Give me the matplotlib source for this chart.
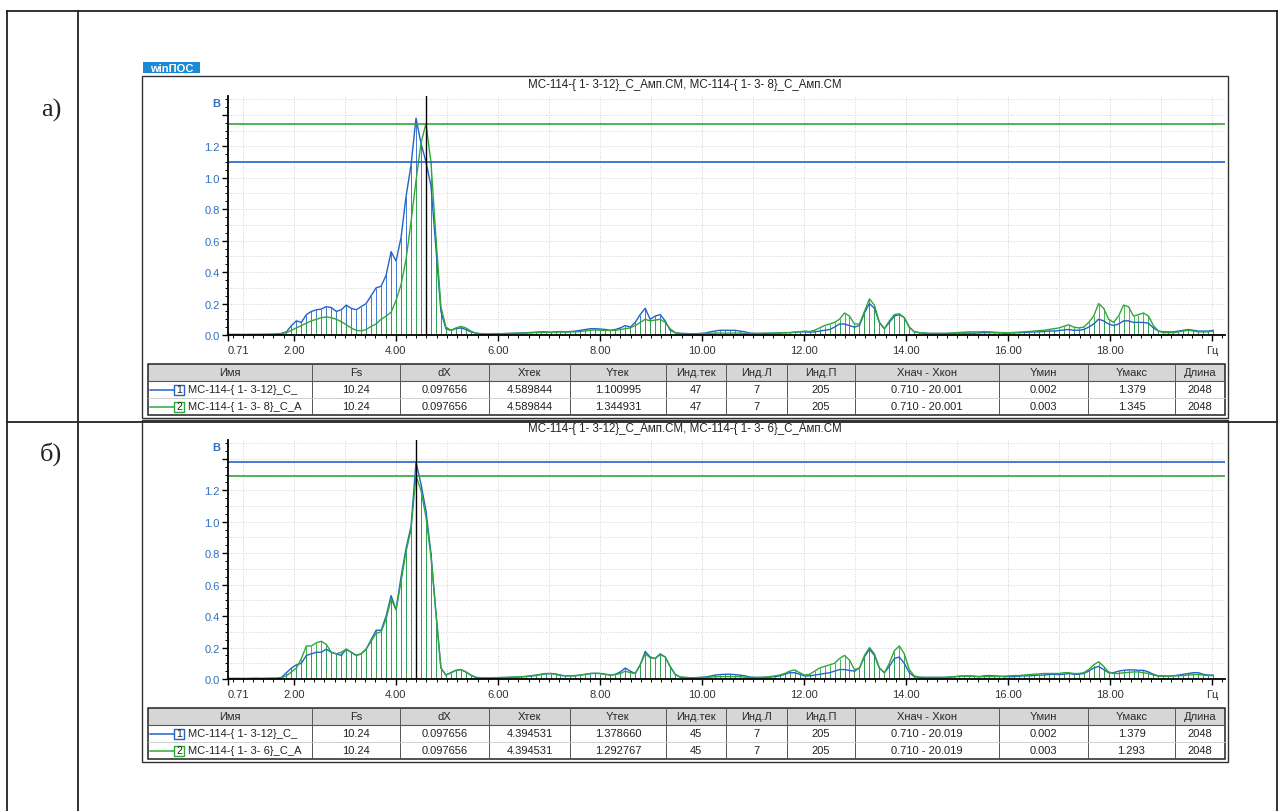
import numpy as np
import matplotlib.pyplot as plt
from matplotlib.patches import Rectangle
from matplotlib.ticker import FixedLocator, MultipleLocator

plt.rcParams['font.family'] = ['Liberation Sans', 'DejaVu Sans']

W, H = 1279, 812  # canvas size, px

# spectrum bins: step dX, left / right index (Инд.Л, Инд.П)
DX = 0.097656
IDX_L, IDX_R = 7, 205

# panel a) amplitudes, one value per bin starting at IDX_L
A1 = [0.004, 0.003, 0.003, 0.002, 0.003, 0.003, 0.003, 0.004, 0.004, 0.005,
      0.006, 0.010, 0.020, 0.060, 0.090, 0.080, 0.130, 0.150, 0.160, 0.165,
      0.180, 0.175, 0.150, 0.160, 0.190, 0.170, 0.160, 0.180, 0.200, 0.250,
      0.300, 0.310, 0.380, 0.530, 0.470, 0.620, 0.880, 1.080, 1.379, 1.220,
      1.100995, 0.950, 0.550, 0.150, 0.040, 0.030, 0.040, 0.045, 0.035, 0.020,
      0.012, 0.008, 0.006, 0.006, 0.008, 0.008, 0.010, 0.010, 0.012, 0.012,
      0.014, 0.016, 0.018, 0.020, 0.020, 0.018, 0.020, 0.022, 0.020, 0.022,
      0.025, 0.030, 0.035, 0.040, 0.040, 0.038, 0.035, 0.030, 0.035, 0.045,
      0.060, 0.050, 0.080, 0.130, 0.170, 0.100, 0.120, 0.130, 0.090, 0.030,
      0.015, 0.010, 0.010, 0.008, 0.008, 0.010, 0.012, 0.020, 0.025, 0.030,
      0.030, 0.030, 0.030, 0.025, 0.020, 0.012, 0.010, 0.010, 0.010, 0.010,
      0.012, 0.012, 0.015, 0.015, 0.018, 0.020, 0.020, 0.018, 0.020, 0.025,
      0.030, 0.035, 0.050, 0.070, 0.070, 0.060, 0.050, 0.060, 0.140, 0.200,
      0.170, 0.080, 0.040, 0.080, 0.120, 0.130, 0.110, 0.050, 0.020, 0.015,
      0.012, 0.010, 0.010, 0.010, 0.010, 0.010, 0.012, 0.012, 0.012, 0.012,
      0.012, 0.014, 0.015, 0.015, 0.015, 0.014, 0.012, 0.012, 0.014, 0.015,
      0.016, 0.018, 0.020, 0.020, 0.022, 0.025, 0.025, 0.028, 0.032, 0.035,
      0.030, 0.030, 0.035, 0.050, 0.070, 0.100, 0.090, 0.070, 0.060, 0.070,
      0.090, 0.090, 0.080, 0.080, 0.080, 0.075, 0.045, 0.025, 0.020, 0.020,
      0.020, 0.025, 0.030, 0.035, 0.030, 0.025, 0.025, 0.025, 0.030]
A2 = [0.004, 0.003, 0.004, 0.004, 0.003, 0.004, 0.004, 0.003, 0.004, 0.004,
      0.005, 0.008, 0.015, 0.030, 0.045, 0.060, 0.075, 0.090, 0.100, 0.110,
      0.115, 0.110, 0.100, 0.085, 0.065, 0.045, 0.030, 0.026, 0.035, 0.055,
      0.070, 0.100, 0.120, 0.145, 0.220, 0.320, 0.480, 0.720, 0.980, 1.220,
      1.344931, 1.100, 0.620, 0.180, 0.050, 0.030, 0.045, 0.055, 0.045, 0.025,
      0.012, 0.008, 0.006, 0.006, 0.007, 0.008, 0.008, 0.010, 0.010, 0.012,
      0.012, 0.014, 0.015, 0.016, 0.018, 0.016, 0.018, 0.020, 0.018, 0.020,
      0.020, 0.022, 0.025, 0.030, 0.032, 0.030, 0.030, 0.028, 0.030, 0.035,
      0.040, 0.045, 0.060, 0.080, 0.100, 0.090, 0.095, 0.100, 0.080, 0.040,
      0.015, 0.010, 0.008, 0.008, 0.008, 0.008, 0.010, 0.010, 0.012, 0.012,
      0.012, 0.012, 0.012, 0.012, 0.010, 0.010, 0.010, 0.010, 0.012, 0.012,
      0.012, 0.014, 0.015, 0.015, 0.018, 0.020, 0.025, 0.022, 0.030, 0.045,
      0.060, 0.070, 0.080, 0.100, 0.140, 0.120, 0.070, 0.070, 0.150, 0.230,
      0.190, 0.080, 0.040, 0.090, 0.130, 0.135, 0.110, 0.050, 0.020, 0.015,
      0.012, 0.010, 0.010, 0.010, 0.010, 0.012, 0.014, 0.016, 0.018, 0.020,
      0.020, 0.020, 0.022, 0.020, 0.018, 0.016, 0.015, 0.015, 0.016, 0.018,
      0.020, 0.022, 0.025, 0.028, 0.030, 0.035, 0.040, 0.045, 0.055, 0.065,
      0.050, 0.045, 0.050, 0.080, 0.120, 0.200, 0.170, 0.100, 0.080, 0.120,
      0.190, 0.180, 0.120, 0.130, 0.140, 0.120, 0.060, 0.025, 0.015, 0.015,
      0.015, 0.020, 0.025, 0.030, 0.025, 0.020, 0.020, 0.020, 0.025]

# panel б) amplitudes
B1 = [0.004, 0.003, 0.003, 0.002, 0.003, 0.003, 0.004, 0.003, 0.004, 0.005,
      0.005, 0.010, 0.040, 0.070, 0.090, 0.100, 0.150, 0.160, 0.170, 0.170,
      0.190, 0.170, 0.160, 0.150, 0.190, 0.170, 0.150, 0.160, 0.190, 0.250,
      0.310, 0.310, 0.400, 0.530, 0.440, 0.650, 0.830, 0.970, 1.378660, 1.240,
      1.070, 0.800, 0.420, 0.070, 0.025, 0.040, 0.055, 0.060, 0.045, 0.025,
      0.010, 0.008, 0.006, 0.006, 0.008, 0.008, 0.010, 0.010, 0.012, 0.014,
      0.016, 0.018, 0.022, 0.028, 0.032, 0.035, 0.032, 0.025, 0.020, 0.020,
      0.022, 0.025, 0.030, 0.035, 0.036, 0.035, 0.030, 0.025, 0.030, 0.045,
      0.070, 0.050, 0.035, 0.090, 0.175, 0.140, 0.130, 0.160, 0.140, 0.080,
      0.030, 0.012, 0.010, 0.008, 0.008, 0.010, 0.012, 0.018, 0.025, 0.028,
      0.030, 0.030, 0.028, 0.025, 0.020, 0.012, 0.010, 0.010, 0.010, 0.012,
      0.015, 0.020, 0.030, 0.040, 0.040, 0.030, 0.020, 0.020, 0.025, 0.030,
      0.035, 0.040, 0.050, 0.060, 0.060, 0.055, 0.050, 0.070, 0.140, 0.190,
      0.150, 0.070, 0.040, 0.080, 0.130, 0.140, 0.100, 0.040, 0.015, 0.010,
      0.010, 0.010, 0.010, 0.010, 0.010, 0.012, 0.015, 0.018, 0.020, 0.020,
      0.018, 0.015, 0.020, 0.022, 0.020, 0.018, 0.015, 0.015, 0.015, 0.018,
      0.020, 0.020, 0.022, 0.025, 0.025, 0.028, 0.030, 0.028, 0.030, 0.035,
      0.030, 0.030, 0.035, 0.050, 0.070, 0.080, 0.060, 0.040, 0.040, 0.050,
      0.055, 0.058, 0.058, 0.055, 0.055, 0.045, 0.030, 0.020, 0.020, 0.018,
      0.020, 0.025, 0.030, 0.035, 0.040, 0.040, 0.030, 0.025, 0.025]
B2 = [0.004, 0.003, 0.004, 0.004, 0.003, 0.004, 0.004, 0.004, 0.004, 0.004,
      0.004, 0.008, 0.020, 0.045, 0.070, 0.130, 0.210, 0.210, 0.230, 0.240,
      0.220, 0.170, 0.160, 0.170, 0.190, 0.170, 0.150, 0.160, 0.190, 0.240,
      0.290, 0.300, 0.380, 0.510, 0.440, 0.620, 0.810, 0.950, 1.292767, 1.200,
      1.030, 0.780, 0.420, 0.070, 0.025, 0.040, 0.055, 0.060, 0.045, 0.025,
      0.010, 0.008, 0.006, 0.006, 0.008, 0.010, 0.010, 0.012, 0.012, 0.014,
      0.016, 0.020, 0.025, 0.030, 0.035, 0.035, 0.030, 0.022, 0.020, 0.020,
      0.020, 0.025, 0.030, 0.035, 0.036, 0.035, 0.030, 0.025, 0.028, 0.035,
      0.050, 0.040, 0.035, 0.090, 0.160, 0.135, 0.130, 0.155, 0.140, 0.080,
      0.030, 0.012, 0.010, 0.008, 0.008, 0.010, 0.010, 0.012, 0.015, 0.015,
      0.015, 0.015, 0.015, 0.015, 0.012, 0.010, 0.010, 0.010, 0.012, 0.015,
      0.020, 0.025, 0.035, 0.050, 0.058, 0.040, 0.025, 0.030, 0.050, 0.070,
      0.080, 0.090, 0.100, 0.130, 0.150, 0.120, 0.060, 0.070, 0.150, 0.200,
      0.160, 0.070, 0.040, 0.100, 0.180, 0.210, 0.160, 0.060, 0.020, 0.012,
      0.010, 0.010, 0.010, 0.010, 0.010, 0.012, 0.014, 0.016, 0.018, 0.018,
      0.016, 0.015, 0.015, 0.016, 0.016, 0.016, 0.018, 0.020, 0.022, 0.022,
      0.025, 0.028, 0.030, 0.032, 0.035, 0.035, 0.035, 0.035, 0.040, 0.040,
      0.035, 0.035, 0.040, 0.060, 0.090, 0.110, 0.080, 0.045, 0.035, 0.035,
      0.040, 0.042, 0.045, 0.045, 0.040, 0.035, 0.025, 0.018, 0.018, 0.018,
      0.020, 0.020, 0.022, 0.025, 0.028, 0.028, 0.025, 0.022, 0.022]

TITLE_A = 'МС-114-{ 1- 3-12}_С_Амп.СМ, МС-114-{ 1- 3- 8}_С_Амп.СМ'
TITLE_B = 'МС-114-{ 1- 3-12}_С_Амп.СМ, МС-114-{ 1- 3- 6}_С_Амп.СМ'

HEADERS = ['Имя', 'Fs', 'dX', 'Xтек', 'Yтек', 'Инд.тек', 'Инд.Л', 'Инд.П',
           'Хнач - Хкон', 'Yмин', 'Yмакс', 'Длина']
ROWS_A = [['МС-114-{ 1- 3-12}_С_', '10.24', '0.097656', '4.589844', '1.100995',
           '47', '7', '205', '0.710 - 20.001', '0.002', '1.379', '2048'],
          ['МС-114-{ 1- 3- 8}_С_А', '10.24', '0.097656', '4.589844', '1.344931',
           '47', '7', '205', '0.710 - 20.001', '0.003', '1.345', '2048']]
ROWS_B = [['МС-114-{ 1- 3-12}_С_', '10.24', '0.097656', '4.394531', '1.378660',
           '45', '7', '205', '0.710 - 20.019', '0.002', '1.379', '2048'],
          ['МС-114-{ 1- 3- 6}_С_А', '10.24', '0.097656', '4.394531', '1.292767',
           '45', '7', '205', '0.710 - 20.019', '0.003', '1.293', '2048']]

X_TICKS = [0.71, 2, 4, 6, 8, 10, 12, 14, 16, 18, 20]
X_LABELS = ['0.71', '2.00', '4.00', '6.00', '8.00', '10.00', '12.00',
            '14.00', '16.00', '18.00', 'Гц']
Y_TICKS = [0.0, 0.2, 0.4, 0.6, 0.8, 1.0, 1.2, 1.4]
Y_LABELS = ['0.0', '0.2', '0.4', '0.6', '0.8', '1.0', '1.2', '']

BLUE = '#2263c9'
GREEN = '#2fa83a'
LABEL_BLUE = '#2f6fbf'
INK = '#222222'
FS = 8  # text size used in the plot window

# table column edges, px
COL_EDGES = [148, 312, 400, 489, 570, 666, 726, 787, 855, 999, 1088, 1175, 1225]
ROW_H = 17


def px_rect(x0, y0, x1, y1):
    return [x0 / W, 1 - y1 / H, (x1 - x0) / W, (y1 - y0) / H]


def draw_spectrum(fig, top, s1, s2, rows):
    ax = fig.add_axes(px_rect(228, top + 20, 1225, top + 259))
    ax.set_facecolor('none')
    freq = np.arange(IDX_L, IDX_R + 1) * DX
    x_cur = float(rows[0][3])

    for g in np.arange(0.1, 1.55, 0.1):
        ax.axhline(g, color='#c4c4c4', lw=0.6, ls=(0, (1, 2)), zorder=0.5)
    for g in range(1, 21):
        ax.axvline(g, color='#c4c4c4', lw=0.6, ls=(0, (1, 2)), zorder=0.5)

    ax.vlines(freq, 0, s1, color=BLUE, lw=0.6, zorder=1)
    ax.vlines(freq, 0, s2, color=GREEN, lw=0.6, zorder=1.1)
    ax.plot(freq, s1, color=BLUE, lw=1.0, zorder=2)
    ax.plot(freq, s2, color=GREEN, lw=1.0, zorder=2.1)

    ax.axhline(float(rows[0][4]), color=BLUE, lw=1.2, zorder=2.5)
    ax.axhline(float(rows[1][4]), color=GREEN, lw=1.2, zorder=2.5)
    ax.axvline(x_cur, color='black', lw=1.0, zorder=3)

    ax.set_xlim(0.71, 20.25)
    ax.set_ylim(0, 1.52)
    ax.xaxis.set_major_locator(FixedLocator(X_TICKS))
    ax.set_xticklabels(X_LABELS)
    ax.xaxis.set_minor_locator(MultipleLocator(0.2))
    ax.yaxis.set_major_locator(FixedLocator(Y_TICKS))
    ax.set_yticklabels(Y_LABELS)
    ax.yaxis.set_minor_locator(MultipleLocator(0.05))

    for side in ('top', 'right'):
        ax.spines[side].set_visible(False)
    for side in ('left', 'bottom'):
        ax.spines[side].set_linewidth(1.3)
        ax.spines[side].set_color('black')
    ax.tick_params(which='major', length=4, width=1, pad=2, labelsize=FS)
    ax.tick_params(which='minor', length=2, width=0.7)
    ax.tick_params(axis='x', labelcolor='#333333', pad=3)
    ax.tick_params(axis='y', labelcolor=LABEL_BLUE)
    ax.xaxis.get_major_ticks()[0].label1.set_horizontalalignment('left')
    return ax


def draw_table(bg, top, rows):
    left, right = COL_EDGES[0], COL_EDGES[-1]
    bg.add_patch(Rectangle((left, top), right - left, ROW_H,
                           facecolor='#d6d6d6', edgecolor='none'))
    bg.add_patch(Rectangle((left, top), right - left, 3 * ROW_H,
                           fill=False, edgecolor=INK, lw=1.1))
    for x in COL_EDGES[1:-1]:
        bg.plot([x, x], [top, top + 3 * ROW_H], color='#555555', lw=0.7)
    bg.plot([left, right], [top + ROW_H] * 2, color='#555555', lw=0.8)
    bg.plot([left, right], [top + 2 * ROW_H] * 2, color='#c8c8c8', lw=0.6)

    for i, name in enumerate(HEADERS):
        xc = (COL_EDGES[i] + COL_EDGES[i + 1]) / 2
        bg.text(xc, top + ROW_H / 2, name, fontsize=FS, color='#2a2a2a',
                ha='center', va='center')

    for r, (row, color) in enumerate(zip(rows, [BLUE, GREEN])):
        yc = top + ROW_H * (r + 1.5)
        bg.plot([left + 2, left + 26], [yc, yc], color=color, lw=1.1)
        bg.add_patch(Rectangle((left + 26, yc - 5), 10, 10, facecolor='white',
                               edgecolor=color, lw=1))
        bg.text(left + 31, yc, str(r + 1), fontsize=7.5, color=INK,
                ha='center', va='center')
        bg.text(left + 40, yc, row[0], fontsize=FS, color=INK,
                ha='left', va='center')
        for i, val in enumerate(row[1:], start=1):
            xc = (COL_EDGES[i] + COL_EDGES[i + 1]) / 2
            bg.text(xc, yc, val, fontsize=FS, color=INK, ha='center', va='center')


fig = plt.figure(figsize=(W / 100, H / 100), dpi=100)
bg = fig.add_axes([0, 0, 1, 1])
bg.set_xlim(0, W)
bg.set_ylim(H, 0)
bg.axis('off')

# outer document table
for xs, ys in [([7, 1277], [12, 12]), ([7, 1277], [423, 423]),
               ([7, 7], [12, 812]), ([78, 78], [12, 812]),
               ([1277, 1277], [12, 812])]:
    bg.plot(xs, ys, color=INK, lw=1.3)
bg.text(51, 110, 'а)', fontsize=19, family='Liberation Serif',
        ha='center', va='center', color=INK)
bg.text(51, 454, 'б)', fontsize=19, family='Liberation Serif',
        ha='center', va='center', color=INK)

# program logo
bg.add_patch(Rectangle((143, 63), 57, 11, facecolor='#1b8bd6', edgecolor='none'))
bg.text(171.5, 68.8, 'winПОС', fontsize=8, fontweight='bold', color='white',
        ha='center', va='center')

for top, title, s1, s2, rows in [(77, TITLE_A, A1, A2, ROWS_A),
                                 (421, TITLE_B, B1, B2, ROWS_B)]:
    bg.add_patch(Rectangle((142, top), 1086, 342, fill=False,
                           edgecolor='#333333', lw=1.0))
    bg.text(685, top + 8, title, fontsize=8.3, color=INK,
            ha='center', va='center')
    bg.text(216, top + 27, 'B', fontsize=FS, fontweight='bold',
            color=LABEL_BLUE, ha='center', va='center')
    draw_spectrum(fig, top, s1, s2, rows)
    draw_table(bg, top + 288, rows)

fig.savefig('out.png', dpi=100)
